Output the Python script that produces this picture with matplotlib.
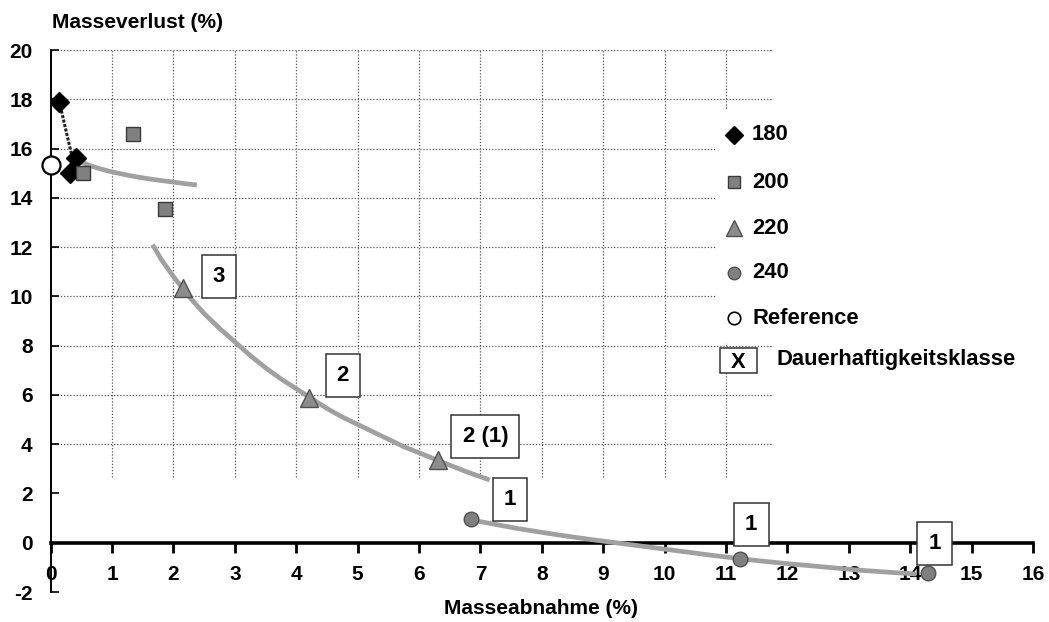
import matplotlib
matplotlib.use("Agg")
import matplotlib.pyplot as plt
from matplotlib.lines import Line2D
from matplotlib.patches import Rectangle

plt.rcParams['font.family'] = ['Liberation Sans', 'DejaVu Sans']
plt.rcParams['font.weight'] = 'bold'

# ---- data ----
x180 = [0.14, 0.41, 0.31]
y180 = [17.9, 15.6, 15.0]
trend180_x = [0.14, 0.41]
trend180_y = [17.9, 15.0]

x200 = [0.53, 1.34, 1.86]
y200 = [15.0, 16.6, 13.55]
trend200_x = [0.5, 0.65, 0.8, 0.95, 1.1, 1.25, 1.4, 1.6, 1.8, 2.0, 2.2, 2.38]
trend200_y = [15.45, 15.3, 15.18, 15.08, 15.0, 14.92, 14.85, 14.77, 14.7, 14.64, 14.57, 14.52]

x220 = [2.15, 4.2, 6.31]
y220 = [10.35, 5.88, 3.37]
trend220_x = [1.66, 1.8, 2.0, 2.25, 2.5, 2.75, 3.0, 3.25, 3.5, 3.75, 4.0, 4.25, 4.5,
              4.75, 5.0, 5.25, 5.5, 5.75, 6.0, 6.25, 6.5, 6.75, 7.0, 7.15]
trend220_y = [12.1, 11.5, 10.8, 10.0, 9.3, 8.7, 8.15, 7.6, 7.1, 6.65, 6.25, 5.85, 5.45,
              5.1, 4.8, 4.5, 4.2, 3.9, 3.65, 3.4, 3.15, 2.9, 2.68, 2.55]

x240 = [6.84, 11.22, 14.29]
y240 = [0.97, -0.65, -1.22]
trend240_x = [6.9, 7.25, 7.6, 8.0, 8.4, 8.8, 9.2, 9.6, 10.0, 10.4, 10.8, 11.2, 11.6,
              12.0, 12.4, 12.8, 13.2, 13.6, 14.1]
trend240_y = [0.9, 0.74, 0.58, 0.42, 0.27, 0.13, 0.0, -0.13, -0.26, -0.39, -0.52, -0.64,
              -0.75, -0.85, -0.94, -1.03, -1.12, -1.19, -1.27]

x_ref = [0.0]
y_ref = [15.33]

class_labels = ["3", "2", "2 (1)", "1", "1", "1"]
class_x = [2.74, 4.76, 7.08, 7.48, 11.41, 14.4]
class_y = [10.8, 6.8, 4.3, 1.74, 0.73, -0.04]

xticks = list(range(0, 17))
yticks = list(range(-2, 21, 2))

legend_names = ["180", "200", "220", "240", "Reference"]

# ---- figure ----
W, H = 1049, 622
fig = plt.figure(figsize=(W / 100, H / 100), dpi=100)
ax = fig.add_axes([50.7 / W, 30 / H, (1033 - 50.7) / W, (592 - 50) / H])
ax.set_xlim(0, 16)
ax.set_ylim(-2, 20)

# grid (limited region as in reference)
grid_kw = dict(color='#555555', lw=0.9, ls=(0, (1, 1.5)), zorder=1)
for yv in range(4, 21, 2):
    ax.plot([0, 11.76], [yv, yv], **grid_kw)
for xv in range(1, 12):
    ax.plot([xv, xv], [2.68, 20], **grid_kw)
# legend background covering grid
ax.add_patch(Rectangle((10.86, 8.11), 6, 17.57 - 8.11, facecolor='white',
                       edgecolor='none', zorder=1.5))

# spines
for s in ['top', 'right']:
    ax.spines[s].set_visible(False)
ax.spines['bottom'].set_position(('data', 0))
ax.spines['bottom'].set_linewidth(2.6)
ax.spines['left'].set_linewidth(1.4)
ax.spines['left'].set_zorder(2)
ax.spines['bottom'].set_zorder(2)

ax.set_xticks(xticks)
ax.set_xticklabels([str(v) for v in xticks])
ax.set_yticks(yticks)
ax.set_yticklabels([str(v) for v in yticks])
ax.tick_params(axis='x', direction='out', length=7, width=2, pad=9,
               labelsize=15)
ax.tick_params(axis='y', direction='in', length=6, width=1.2, pad=13,
               labelsize=15)
for lab in ax.get_xticklabels() + ax.get_yticklabels():
    lab.set_fontweight('bold')

# trend lines
tcol = '#a0a0a0'
ax.plot(trend180_x, trend180_y, color='#222222', lw=2.2, ls=(0, (1, 0.5)), zorder=3)
ax.plot(trend200_x, trend200_y, color=tcol, lw=3.4, zorder=3, solid_capstyle='butt')
ax.plot(trend220_x, trend220_y, color=tcol, lw=3.4, zorder=3, solid_capstyle='butt')
ax.plot(trend240_x, trend240_y, color=tcol, lw=3.4, zorder=3, solid_capstyle='butt')

# markers
ax.plot(x180, y180, ls='none', marker='D', ms=10.5, mfc='black', mec='black', zorder=5)
ax.plot(x200, y200, ls='none', marker='s', ms=10.5, mfc='#808080', mec='#3a3a3a', mew=1, zorder=5)
ax.plot(x220, y220, ls='none', marker='^', ms=13, mfc='#8c8c8c', mec='#505050', mew=1, zorder=5)
ax.plot(x240, y240, ls='none', marker='o', ms=10.5, mfc='#808080', mec='#505050', mew=1, zorder=5)
ax.plot(x_ref, y_ref, ls='none', marker='o', ms=13, mfc='white', mec='black', mew=1.6,
        zorder=6, clip_on=False)

# class boxes
for lab, cx, cy in zip(class_labels, class_x, class_y):
    ax.text(cx, cy, lab, ha='center', va='center', fontsize=16, fontweight='bold',
            zorder=7,
            bbox=dict(boxstyle='square,pad=0.5', facecolor='white',
                      edgecolor='#333333', lw=1.1))

# axis labels
fig.text(52 / W, 1 - 22 / H, "Masseverlust (%)", ha='left', va='center',
         fontsize=15, fontweight='bold')
fig.text(541 / W, 1 - 608 / H, "Masseabnahme (%)", ha='center', va='center',
         fontsize=15, fontweight='bold')

# legend (manual)
def fx(px):
    return px / W

def fy(py):
    return 1 - py / H

leg_styles = [
    dict(marker='D', ms=9, mfc='black', mec='black'),
    dict(marker='s', ms=9, mfc='#808080', mec='#3a3a3a', mew=1),
    dict(marker='^', ms=11, mfc='#8c8c8c', mec='#505050', mew=1),
    dict(marker='o', ms=9, mfc='#808080', mec='#505050', mew=1),
    dict(marker='o', ms=9, mfc='white', mec='black', mew=1.2),
]
leg_y = [135, 182, 228, 273, 318]
for name, st, py in zip(legend_names, leg_styles, leg_y):
    fig.add_artist(Line2D([fx(734)], [fy(py)], ls='none', transform=fig.transFigure, **st))
    fig.text(fx(752), fy(py), name, ha='left', va='center', fontsize=15.8,
             fontweight='bold')

fig.add_artist(Rectangle((fx(720), fy(373)), (757 - 720) / W, (373 - 348) / H,
                         transform=fig.transFigure, facecolor='white',
                         edgecolor='#333333', lw=1.1))
fig.text(fx(738.5), fy(362), "X", ha='center', va='center', fontsize=15.8,
         fontweight='bold')
fig.text(fx(776), fy(360), "Dauerhaftigkeitsklasse", ha='left', va='center',
         fontsize=15.8, fontweight='bold')

fig.savefig("out.png", dpi=100)
